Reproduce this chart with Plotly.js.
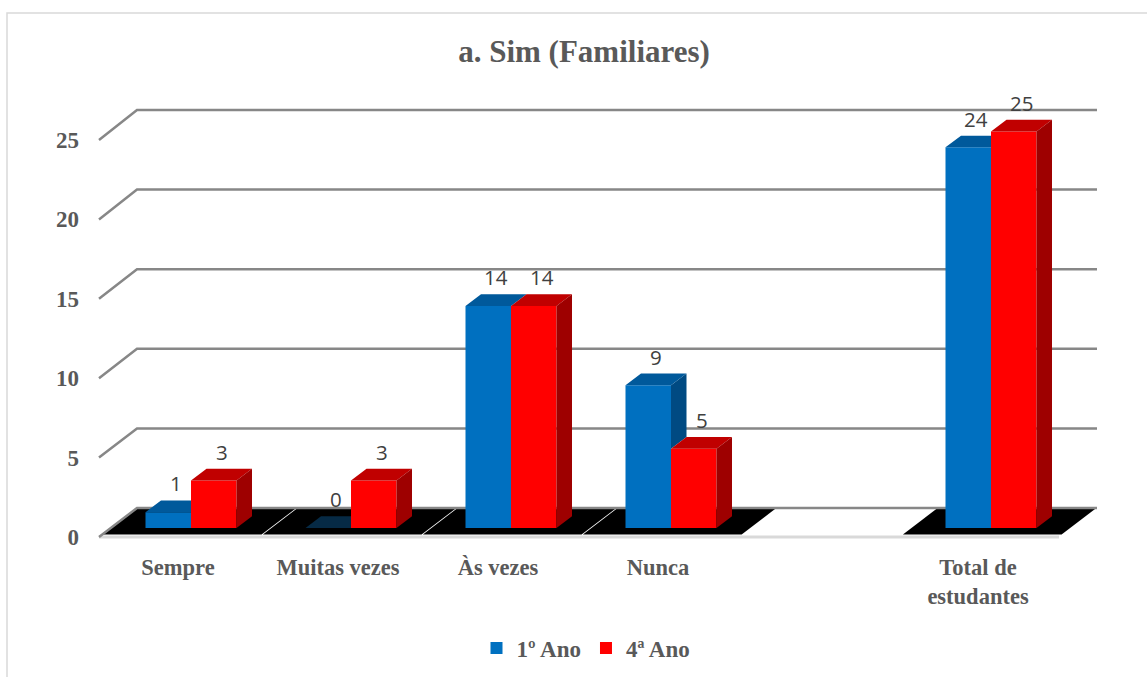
<!DOCTYPE html>
<html>
<head>
<meta charset="utf-8">
<script src="https://cdn.plot.ly/plotly-3.0.1.min.js"></script>
<style>
  html, body { margin: 0; padding: 0; background: #ffffff; }
  #chart { width: 1147px; height: 677px; }
</style>
</head>
<body>
<div id="chart"></div>
<script>
// ---------------- data ----------------
const categories = ['Sempre', 'Muitas vezes', 'Às vezes', 'Nunca', '', 'Total de estudantes'];
const ano1 = [1, 0, 14, 9, null, 24];
const ano4 = [3, 3, 14, 5, null, 25];
const seriesNames = ['1º Ano', '4ª Ano'];
const yTicks = [0, 5, 10, 15, 20, 25];
const chartTitle = 'a. Sim (Familiares)';

// ---------------- styling / geometry ----------------
const M = { l: 90, r: 37, t: 90, b: 129 };
const PXX = 160, PXY = 15.86;                 // px per unit
const X0PX = 191, Y0PX = 528;                  // px of category 0 / value 0 (bar plane)
const plotW = 1147 - M.l - M.r, plotH = 677 - M.t - M.b;
const xRange = [(M.l - X0PX) / PXX, (M.l + plotW - X0PX) / PXX];
const yRange = [(Y0PX - (M.t + plotH)) / PXY, (Y0PX - M.t) / PXY];

const W = 45.5 / PXX;       // bar width
const DX = 15.5 / PXX;      // 3D depth x
const DY = 11.7 / PXY;      // 3D depth y
const BACK_X = 26 / PXX, BACK_Y = 20 / PXY, BACK_S = 15.92 / PXY;
const FRONT_X = -12 / PXX, FRONT_Y = -9 / PXY, FRONT_S = 15.88 / PXY;

const BLUE = '#0070C0', BLUE_TOP = '#00599B', BLUE_SIDE = '#004A82';
const RED = '#FF0000', RED_TOP = '#C00000', RED_SIDE = '#9E0000';
const GRID = '#878787';
const TEXT = '#595959';
const SERIF = 'Liberation Serif, Times New Roman, serif';

const idx = categories.map((c, i) => i);

// ---------------- traces ----------------
const traces = [];
traces.push({
  type: 'bar', name: seriesNames[0], x: idx, y: ano1,
  width: W, offset: -W, marker: { color: BLUE, line: { width: 0 } }, hoverinfo: 'skip'
});
traces.push({
  type: 'bar', name: seriesNames[1], x: idx, y: ano4,
  width: W, offset: 0, marker: { color: RED, line: { width: 0 } }, hoverinfo: 'skip'
});

function poly(pts, store) {
  pts.forEach(p => { store.x.push(p[0]); store.y.push(p[1]); });
  store.x.push(pts[0][0]); store.y.push(pts[0][1]);
  store.x.push(null); store.y.push(null);
}
const bSide = { x: [], y: [] }, bTop = { x: [], y: [] }, bTop0 = { x: [], y: [] },
      rTop = { x: [], y: [] }, rSide = { x: [], y: [] };
idx.forEach(i => {
  const b = ano1[i], r = ano4[i];
  if (b === null || r === null) return;
  const xl = i - W, xm = i, xr = i + W;
  const tgt = b === 0 ? bTop0 : bTop;
  if (b >= r) {
    poly([[xl, b], [xm, b], [xm + DX, b + DY], [xl + DX, b + DY]], tgt);
    if (b > r) poly([[xm, r], [xm + DX, r + DY], [xm + DX, b + DY], [xm, b]], bSide);
  } else {
    poly([[xl, b], [xm, b], [xm, b + DY], [xl + DX, b + DY]], tgt);
  }
  poly([[xm, r], [xr, r], [xr + DX, r + DY], [xm + DX, r + DY]], rTop);
  poly([[xr, 0], [xr + DX, DY], [xr + DX, r + DY], [xr, r]], rSide);
});
[[bSide, BLUE_SIDE], [bTop, BLUE_TOP], [bTop0, '#062A45'], [rTop, RED_TOP], [rSide, RED_SIDE]].forEach(([d, col]) => {
  traces.push({
    type: 'scatter', mode: 'lines', x: d.x, y: d.y, fill: 'toself', fillcolor: col,
    line: { width: 0, color: col }, showlegend: false, hoverinfo: 'skip'
  });
});

// ---------------- shapes ----------------
const shapes = [];
// black floor shadow per filled category
function floorX(i, side, ypx) { // ypx: px offset below back plane (0..29)
  const off = (26 - ypx * 38 / 29) / PXX;
  return i + side * 0.5 + off;
}
idx.forEach(i => {
  if (ano1[i] === null && ano4[i] === null) return;
  const g = 0.004;
  const yb = (Y0PX - 509) / PXY, yf = (Y0PX - 534.5) / PXY;
  const path = 'M ' + (floorX(i, -1, 1) + g) + ',' + yb +
    ' L ' + (floorX(i, 1, 1) - g) + ',' + yb +
    ' L ' + (floorX(i, 1, 26.5) - g) + ',' + yf +
    ' L ' + (floorX(i, -1, 26.5) + g) + ',' + yf + ' Z';
  shapes.push({ type: 'path', xref: 'x', yref: 'y', path: path, fillcolor: '#000000',
    line: { width: 0 }, layer: 'below' });
});
// front floor edge
const xStart = -0.5, xEnd = categories.length - 0.5;
shapes.push({ type: 'line', xref: 'x', yref: 'y', layer: 'below',
  x0: xStart + FRONT_X, x1: xEnd + FRONT_X, y0: FRONT_Y, y1: FRONT_Y,
  line: { color: '#D9D9D9', width: 3 } });
// back-wall gridlines with perspective return
yTicks.forEach(v => {
  const yb = BACK_Y + v * BACK_S, yf = FRONT_Y + v * FRONT_S;
  const path = 'M ' + (xStart + FRONT_X) + ',' + yf + ' L ' + (xStart + BACK_X) + ',' + yb +
    ' L ' + (xEnd + BACK_X) + ',' + yb;
  shapes.push({ type: 'path', xref: 'x', yref: 'y', path: path, layer: 'below',
    line: { color: GRID, width: 2.5 } });
});
// outer chart border
shapes.push({ type: 'rect', xref: 'paper', yref: 'paper',
  x0: (7 - M.l) / plotW, x1: (1150 - M.l) / plotW,
  y0: (M.t + plotH - 13) / plotH, y1: (M.t + plotH - 680) / plotH,
  line: { color: '#D9D9D9', width: 1.5 }, fillcolor: 'rgba(0,0,0,0)', layer: 'below' });

// ---------------- data labels ----------------
const annotations = [];
function addLabel(x, v, shift) {
  annotations.push({ x: x, y: v + DY, xref: 'x', yref: 'y', text: String(v), showarrow: false,
    yanchor: 'bottom', yshift: shift, font: { family: 'Open Sans, Liberation Sans, sans-serif', size: 20.5, color: '#404040' } });
}
idx.forEach(i => {
  if (ano1[i] !== null) addLabel(i - W / 2 + DX / 2, ano1[i], 1);
  if (ano4[i] !== null) addLabel(i + W / 2 + DX / 2, ano4[i], 1);
});

// ---------------- layout ----------------
const layout = {
  width: 1147, height: 677,
  margin: Object.assign({ autoexpand: false }, M),
  paper_bgcolor: '#ffffff', plot_bgcolor: '#ffffff',
  barmode: 'overlay',
  title: { text: chartTitle, xref: 'container', x: 584 / 1147, xanchor: 'center',
    yref: 'container', y: 1 - 51 / 677, yanchor: 'middle',
    font: { family: SERIF, size: 31, weight: 'bold', color: TEXT } },
  xaxis: { range: xRange, showgrid: false, zeroline: false, showline: false, automargin: false,
    tickmode: 'array', tickvals: idx.map(i => i - 13 / PXX),
    ticktext: categories.map(c => c.replace('Total de ', 'Total de<br>')),
    ticks: '', ticklabelstandoff: 3,
    tickfont: { family: SERIF, size: 22.5, weight: 'bold', color: TEXT } },
  yaxis: { range: yRange, showgrid: false, zeroline: false, showline: false, automargin: false,
    tickmode: 'array', tickvals: yTicks.map(v => FRONT_Y + v * FRONT_S), ticktext: yTicks.map(String),
    ticks: '', ticklabelstandoff: 10,
    tickfont: { family: SERIF, size: 23, weight: 'bold', color: TEXT } },
  legend: { orientation: 'h', xref: 'paper', x: (586 - M.l) / plotW, xanchor: 'center',
    yref: 'container', y: 1 - 648 / 677, yanchor: 'middle',
    font: { family: SERIF, size: 23, weight: 'bold', color: TEXT },
    itemwidth: 30, tracegroupgap: 0 },
  shapes: shapes,
  annotations: annotations,
  showlegend: true
};

Plotly.newPlot('chart', traces, layout, { displayModeBar: false, staticPlot: true });
</script>
</body>
</html>
